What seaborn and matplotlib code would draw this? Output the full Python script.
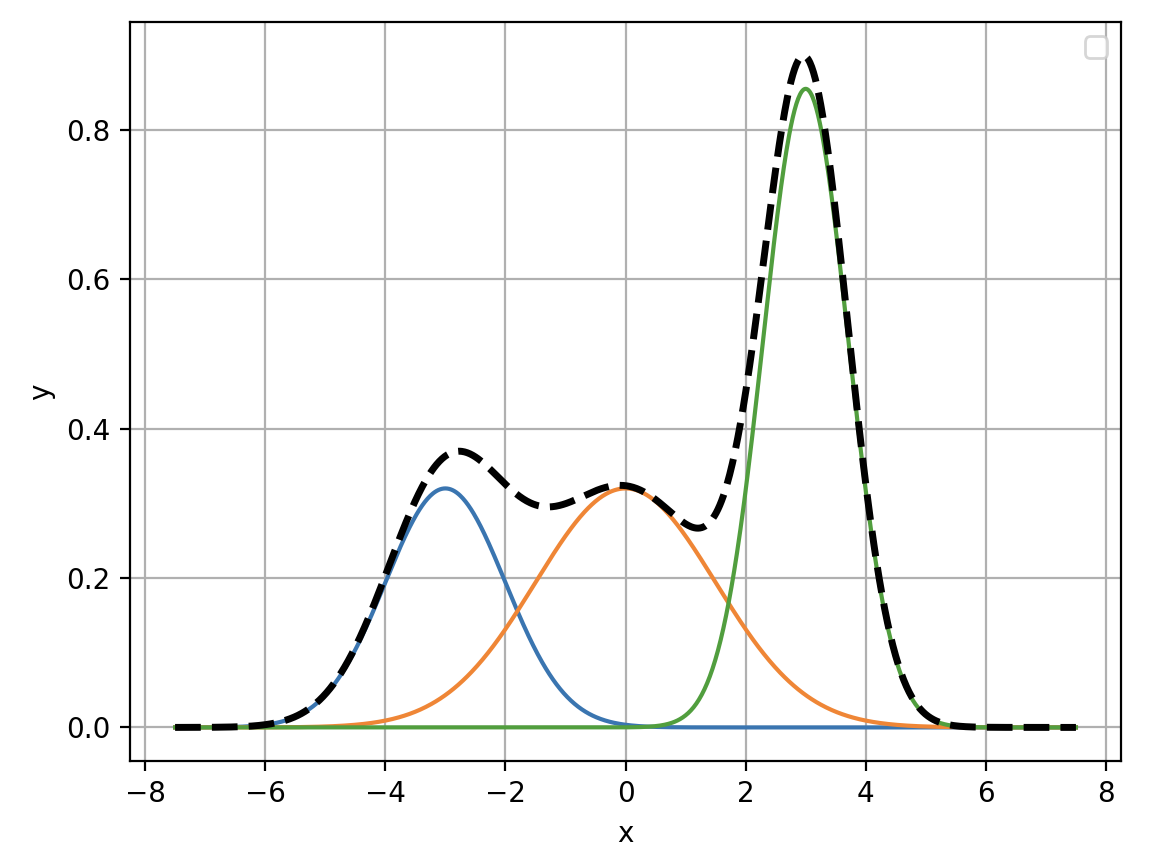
import numpy as np
import pandas as pd
import matplotlib
matplotlib.use("Agg")
import matplotlib.pyplot as plt
import seaborn as sns

# Component parameters (centre, spread, peak height)
component_means = [-3.0, 0.0, 3.0]
component_sigmas = [1.0, 1.5, 0.71]
component_peaks = [0.32, 0.32, 0.855]
component_colors = ["#3a75b0", "#ef8636", "#519e3e"]

x_min, x_max, n_points = -7.5, 7.5, 1000
x = np.linspace(x_min, x_max, n_points)

frames = []
for i, (m, s, p) in enumerate(zip(component_means, component_sigmas, component_peaks)):
    y = p * np.exp(-0.5 * ((x - m) / s) ** 2)
    frames.append(pd.DataFrame({"x": x, "y": y, "comp": i}))
df = pd.concat(frames, ignore_index=True)
total = df.groupby("x", as_index=False)["y"].sum()

fig, ax = plt.subplots(figsize=(5.78, 4.26), dpi=200)
fig.subplots_adjust(left=0.1125, right=0.9697, top=0.974, bottom=0.1068)

for i, c in enumerate(component_colors):
    sns.lineplot(data=df[df["comp"] == i], x="x", y="y", color=c, lw=1.5, ax=ax)
sns.lineplot(data=total, x="x", y="y", color="black", lw=2.5, linestyle="--", ax=ax)

ax.grid(True)
ax.set_xlabel("x")
ax.set_ylabel("y")
ax.legend()

fig.savefig("out.png", dpi=200)
